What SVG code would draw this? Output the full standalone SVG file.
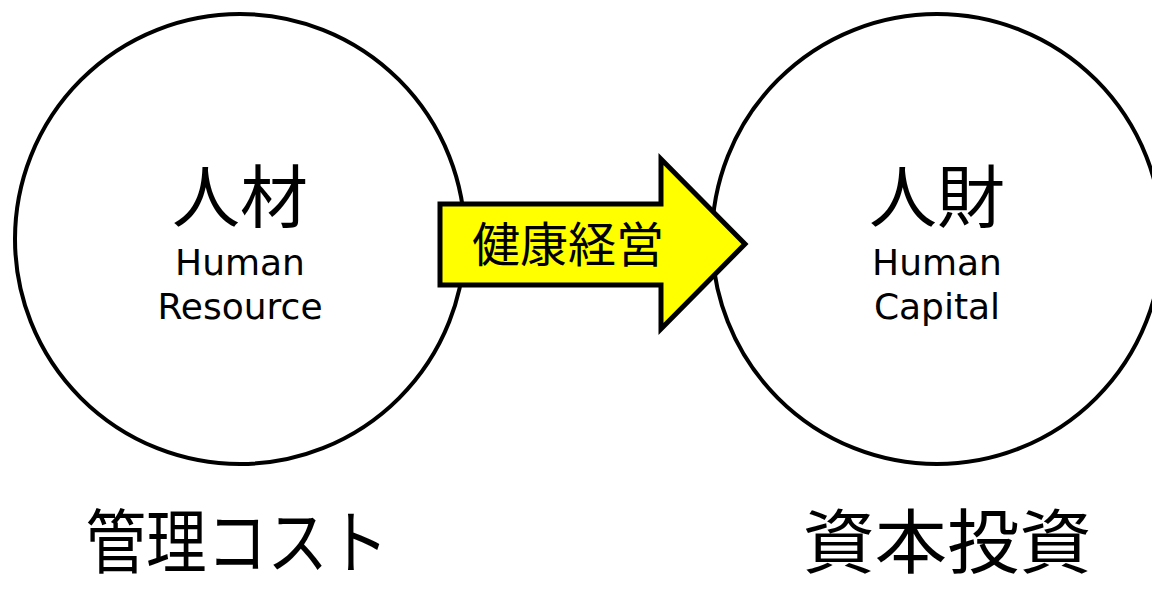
<svg xmlns="http://www.w3.org/2000/svg" width="1152" height="589" viewBox="0 0 1152 589">
<style>
.circ{fill:#fff;stroke:#000;stroke-width:4}
.jp{font-family:"Noto Sans CJK JP","Noto Sans CJK SC",sans-serif;fill:#000;text-anchor:middle}
.en{font-family:"DejaVu Sans","Noto Sans",sans-serif;fill:#000;text-anchor:middle;font-size:36px}
</style>
<rect width="1152" height="589" fill="#fff"/>
<g id="node-resource">
<circle class="circ" cx="240" cy="239" r="225"/>
<text class="jp" x="240" y="222" font-size="68">人材</text>
<text class="en" x="240" y="275">Human</text>
<text class="en" x="240" y="319">Resource</text>
</g>
<g id="node-capital">
<circle class="circ" cx="937" cy="239" r="225"/>
<text class="jp" x="937" y="222" font-size="68">人財</text>
<text class="en" x="937" y="275">Human</text>
<text class="en" x="937" y="319">Capital</text>
</g>
<g id="connectors">
<path d="M440,204 L661,204 L661,159 L745,244 L661,329 L661,285 L440,285 Z" fill="#ffff00" stroke="#000" stroke-width="5" stroke-linejoin="miter"/>
<text class="jp" x="568" y="262" font-size="48">健康経営</text>
</g>
<g id="label-cost">
<text class="jp" x="237" y="568" font-size="70" textLength="303" lengthAdjust="spacingAndGlyphs">管理コスト</text>
</g>
<g id="label-invest">
<text class="jp" x="947" y="568" font-size="70" textLength="289" lengthAdjust="spacingAndGlyphs">資本投資</text>
</g>
</svg>
